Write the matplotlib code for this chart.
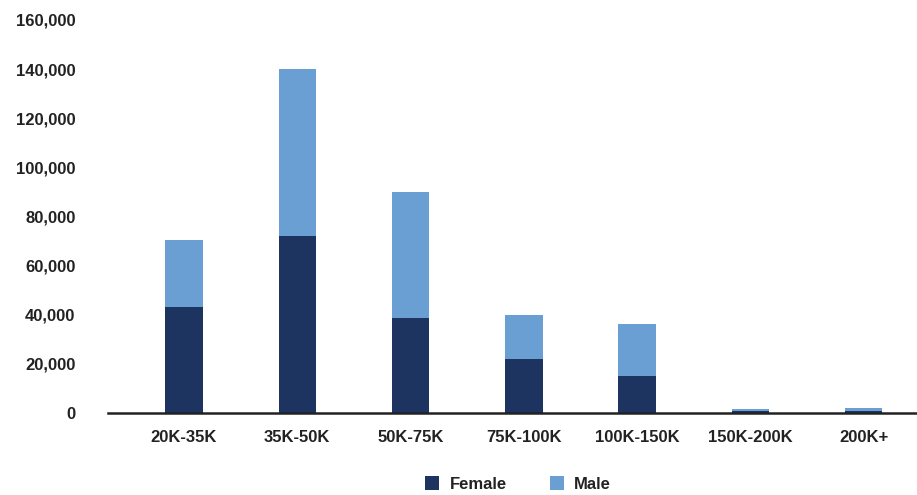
import numpy as np
import matplotlib.pyplot as plt

# Tranches de revenu et effectifs
categories = ["20K-35K", "35K-50K", "50K-75K", "75K-100K", "100K-150K", "150K-200K", "200K+"]
female = [43200, 72100, 38700, 22000, 15000, 1000, 900]
male = [27200, 67900, 51300, 17900, 21200, 500, 1300]
yticks = [0, 20000, 40000, 60000, 80000, 100000, 120000, 140000, 160000]

plt.rcParams['font.family'] = ['Liberation Sans', 'DejaVu Sans']

fig = plt.figure(figsize=(9.17, 4.95), dpi=100)
ax = fig.add_axes([0.1178, 0.1657, 0.8822, 0.7939])

x = np.arange(len(categories))
ax.bar(x, female, width=0.33, color="#1d3461", label="Female")
ax.bar(x, male, width=0.33, bottom=female, color="#6a9fd4", label="Male")

ax.set_xlim(-0.67, 6.47)
ax.set_ylim(0, 160000)
ax.set_xticks(x)
ax.set_xticklabels(categories, fontsize=12, fontweight="bold", color="#222222")
ax.set_yticks(yticks)
ax.set_yticklabels([f"{v:,}" for v in yticks], fontsize=12, fontweight="bold", color="#222222")
ax.tick_params(axis="x", length=0, pad=12.5)
ax.tick_params(axis="y", length=0, pad=23.5)

for side in ["top", "right", "left"]:
    ax.spines[side].set_visible(False)
ax.spines["bottom"].set_color("#222222")
ax.spines["bottom"].set_linewidth(1.8)

leg = fig.legend(loc="lower center", bbox_to_anchor=(0.565, -0.024), ncol=2, frameon=False,
                 handlelength=0.85, handleheight=0.85, handletextpad=0.6, columnspacing=2.6,
                 prop={"size": 12, "weight": "bold"})
for t in leg.get_texts():
    t.set_color("#222222")

fig.savefig("out.png", dpi=100)
